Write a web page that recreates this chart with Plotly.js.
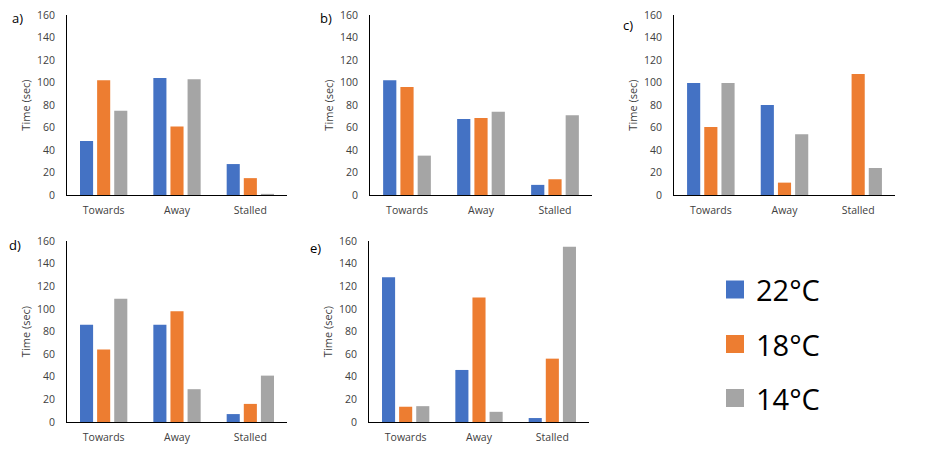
<!DOCTYPE html>
<html>
<head>
<meta charset="utf-8">
<script src="https://cdn.plot.ly/plotly-3.0.1.min.js"></script>
<style>
  html, body { margin: 0; padding: 0; background: #fff; }
  #chart { width: 944px; height: 474px; }
</style>
</head>
<body>
<div id="chart"></div>
<script>
// ---- Data ----
const categories = ['Towards', 'Away', 'Stalled'];
const seriesNames = ['22°C', '18°C', '14°C'];
const panelLabels = ['a)', 'b)', 'c)', 'd)', 'e)'];
const yTickVals = [0, 20, 40, 60, 80, 100, 120, 140, 160];

const a22 = [48, 104, 27.5];
const a18 = [102, 61, 15];
const a14 = [75, 103, 1];

const b22 = [102, 67.5, 9];
const b18 = [96, 68.5, 14];
const b14 = [35, 74, 71];

const c22 = [99.5, 80, 0];
const c18 = [60.5, 11, 107.5];
const c14 = [99.5, 54, 24];

const d22 = [86, 86, 7];
const d18 = [64, 98, 16];
const d14 = [109, 29, 41];

const e22 = [128, 46, 3.5];
const e18 = [13.5, 110, 56];
const e14 = [14, 9, 155];

const panels = [
  [a22, a18, a14],
  [b22, b18, b14],
  [c22, c18, c14],
  [d22, d18, d14],
  [e22, e18, e14]
];

// ---- Styling ----
const colors = ['#4472C4', '#ED7D31', '#A5A5A5'];
const W = 944, H = 474;
// plot boxes in pixels: [x0, x1, yTop, yBottom]
const boxes = [
  [67, 287, 15, 195],
  [370, 592, 15, 195],
  [674, 895, 15, 195],
  [67, 287, 241, 422],
  [369, 589, 241, 422]
];
const labelPos = [[17, 18], [326, 18], [628, 25], [15, 245], [315, 248]];

const data = [];
const layout = {
  width: W, height: H,
  margin: {l: 0, r: 0, t: 0, b: 0},
  paper_bgcolor: '#fff', plot_bgcolor: '#fff',
  showlegend: false,
  barmode: 'group',
  bargap: 0.30,
  bargroupgap: 0.235,
  font: {family: 'Open Sans, sans-serif', color: '#404040', size: 10},
  annotations: [],
  shapes: []
};

panels.forEach((series, p) => {
  const n = p + 1;
  const xa = n === 1 ? 'x' : 'x' + n;
  const ya = n === 1 ? 'y' : 'y' + n;
  series.forEach((vals, s) => {
    data.push({
      type: 'bar', x: categories, y: vals, name: seriesNames[s],
      marker: {color: colors[s]}, xaxis: xa, yaxis: ya,
      hoverinfo: 'skip'
    });
  });
  const b = boxes[p];
  layout['xaxis' + (n === 1 ? '' : n)] = {
    domain: [b[0] / W, b[1] / W], anchor: ya,
    showline: true, linecolor: '#000', linewidth: 1,
    showgrid: false, zeroline: false, ticks: '',
    ticklabelstandoff: 5,
    tickfont: {size: 10.5, color: '#404040'}, fixedrange: true
  };
  layout['yaxis' + (n === 1 ? '' : n)] = {
    domain: [1 - b[3] / H, 1 - b[2] / H], anchor: xa,
    range: [0, 160], tickvals: yTickVals,
    showline: true, linecolor: '#000', linewidth: 1,
    showgrid: false, zeroline: false, ticks: '',
    ticklabelstandoff: 9,
    tickfont: {size: 10.5, color: '#404040'},
    title: {text: 'Time (sec)', font: {size: 11, color: '#404040'}, standoff: 4},
    fixedrange: true
  };
  layout.annotations.push({
    text: panelLabels[p], xref: 'paper', yref: 'paper',
    x: labelPos[p][0] / W, y: 1 - labelPos[p][1] / H,
    xanchor: 'center', yanchor: 'middle', showarrow: false,
    font: {size: 13, color: '#000'}
  });
});

// Legend (drawn manually to match the large swatches)
const legY = [289.5, 344, 398];
seriesNames.forEach((name, i) => {
  layout.shapes.push({
    type: 'rect', xref: 'paper', yref: 'paper',
    x0: 726 / W, x1: 744 / W,
    y0: 1 - (legY[i] + 9) / H, y1: 1 - (legY[i] - 9) / H,
    fillcolor: colors[i], line: {width: 0}
  });
  layout.annotations.push({
    text: name, xref: 'paper', yref: 'paper',
    x: 754 / W, y: 1 - legY[i] / H,
    xanchor: 'left', yanchor: 'middle', showarrow: false,
    font: {size: 29, color: '#000'}
  });
});

Plotly.newPlot('chart', data, layout, {displayModeBar: false, staticPlot: true});
</script>
</body>
</html>
